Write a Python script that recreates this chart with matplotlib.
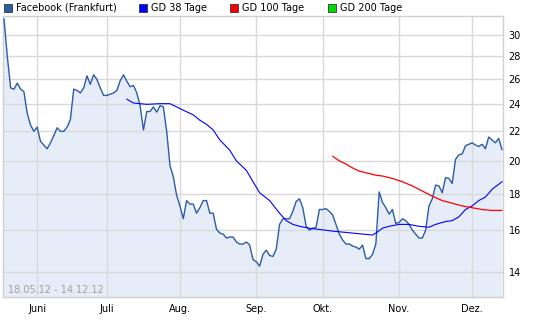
import matplotlib
matplotlib.use("Agg")
import matplotlib.pyplot as plt
from matplotlib.patches import Rectangle
import pandas as pd
import numpy as np

# ---------------- data ----------------
dates = pd.bdate_range("2012-05-18", "2012-12-14")  # 151 trading days
price = [31.6, 28.0, 25.3, 25.2, 25.7, 25.2, 25.0, 23.3, 22.45, 22.0,
         22.3, 21.3, 21.05, 20.8, 21.2, 21.7, 22.25, 22.0, 22.0, 22.3,
         22.85, 25.2, 25.1, 24.9, 25.3, 26.3, 25.6, 26.4, 26.0, 25.3,
         24.7, 24.7, 24.8, 24.9, 25.1, 25.9, 26.4, 25.85, 25.4, 25.5,
         24.9, 23.9, 22.1, 23.45, 23.45, 23.8, 23.4, 23.9, 23.8, 22.0,
         19.7, 19.0, 17.9, 17.3, 16.6, 17.6, 17.4, 17.4, 16.9, 17.2,
         17.6, 17.6, 16.9, 16.9, 16.05, 15.85, 15.8, 15.6, 15.65, 15.65,
         15.4, 15.3, 15.3, 15.4, 15.25, 14.55, 14.45, 14.25, 14.8, 15.0,
         14.75, 14.7, 15.05, 16.3, 16.6, 16.6, 16.6, 17.0, 17.55, 17.7,
         17.2, 16.2, 16.0, 16.1, 16.15, 17.1, 17.1, 17.15, 17.0, 16.8,
         16.3, 15.8, 15.5, 15.3, 15.3, 15.2, 15.15, 15.05, 15.25, 14.6,
         14.6, 14.8, 15.3, 18.1, 17.5, 17.2, 16.85, 17.1, 16.35, 16.4,
         16.6, 16.5, 16.3, 16.0, 15.8, 15.6, 15.6, 16.0, 17.3, 17.7,
         18.5, 18.45, 18.05, 18.95, 18.9, 18.6, 20.1, 20.4, 20.45, 21.0,
         21.1, 21.2, 21.05, 20.95, 21.1, 20.8, 21.6, 21.4, 21.2, 21.5,
         20.75]

gd38_idx = [37, 39, 43, 47, 50, 52, 54, 57, 59, 61, 63, 65, 68, 70, 73, 75,
            77, 80, 83, 85, 87, 89, 92, 99, 105, 111, 112, 114, 116, 119,
            122, 125, 128, 130, 133, 135, 137, 139, 141, 143, 145, 147, 150]
gd38_val = [24.4, 24.1, 24.0, 24.05, 24.05, 23.8, 23.55, 23.2, 22.8, 22.5,
            22.1, 21.4, 20.7, 20.0, 19.4, 18.7, 18.05, 17.6, 16.9, 16.5,
            16.3, 16.2, 16.1, 15.95, 15.85, 15.75, 15.85, 16.1, 16.2, 16.3,
            16.3, 16.2, 16.15, 16.3, 16.45, 16.5, 16.7, 17.1, 17.3, 17.6,
            17.8, 18.25, 18.7]

gd100_idx = [99, 101, 103, 105, 107, 109, 112, 114, 117, 120, 123, 126,
             129, 132, 135, 138, 141, 144, 147, 150]
gd100_val = [20.3, 20.0, 19.8, 19.55, 19.35, 19.25, 19.1, 19.05, 18.9, 18.7,
             18.45, 18.15, 17.85, 17.6, 17.45, 17.3, 17.2, 17.1, 17.05, 17.05]

month_idx = [10, 31, 53, 76, 96, 119, 141]
month_labels = ["Juni", "Juli", "Aug.", "Sep.", "Okt.", "Nov.", "Dez."]
yticks = [14, 16, 18, 20, 22, 24, 26, 28, 30]

legend_labels = ["Facebook (Frankfurt)", "GD 38 Tage", "GD 100 Tage", "GD 200 Tage"]
legend_colors = ["#2A5CAA", "#0000FF", "#FF0000", "#00DD00"]

# ---------------- figure ----------------
W, H = 545, 330
fig = plt.figure(figsize=(W / 100, H / 100), dpi=100)
left, right, top, bottom = 3, 503, 16, 297
ax = fig.add_axes([left / W, 1 - bottom / H, (right - left) / W, (bottom - top) / H])

x = np.arange(len(dates))
ymin, ymax = 12.9, 31.9
ax.set_yscale("log")
ax.set_ylim(ymin, ymax)
ax.set_xlim(-0.3, 150.3)

ax.fill_between(x, price, ymin * 0.5, color="#E6ECF8", zorder=1, linewidth=0)

gridc = "#D9D9D9"
for yv in yticks:
    ax.axhline(yv, color=gridc, lw=1.0, zorder=1.5)
for xv in month_idx:
    ax.axvline(xv, color=gridc, lw=1.0, zorder=1.5)

ax.plot(x, price, color="#2A5CAA", lw=1.0, zorder=3)
ax.plot(gd38_idx, gd38_val, color="#0000FF", lw=0.8, zorder=4)
ax.plot(gd100_idx, gd100_val, color="#FF0000", lw=0.9, zorder=4)

ax.yaxis.tick_right()
ax.set_yticks(yticks)
ax.set_yticklabels([str(v) for v in yticks])
ax.yaxis.set_minor_locator(matplotlib.ticker.NullLocator())
ax.set_xticks(month_idx)
ax.set_xticklabels(month_labels)
ax.tick_params(axis="both", length=0, labelsize=7, colors="black")
ax.tick_params(axis="y", pad=4)
ax.tick_params(axis="x", pad=5)

for sp in ax.spines.values():
    sp.set_color("#D0D0D0")
    sp.set_linewidth(1.0)

ax.text(0.01, 0.008, "18.05.12 - 14.12.12", transform=ax.transAxes,
        fontsize=7, color="#A0A0A0", ha="left", va="bottom", zorder=5)

# legend across the top
sq_x = [4, 139, 230, 328]
for sx, lab, col in zip(sq_x, legend_labels, legend_colors):
    fig.patches.append(Rectangle((sx / W, 1 - 12 / H), 8 / W, 8 / H,
                                 transform=fig.transFigure, facecolor=col,
                                 edgecolor="#333333", linewidth=0.6))
    fig.text((sx + 12) / W, 1 - 8 / H, lab, fontsize=7, color="black",
             ha="left", va="center")

fig.savefig("out.png", dpi=100)
